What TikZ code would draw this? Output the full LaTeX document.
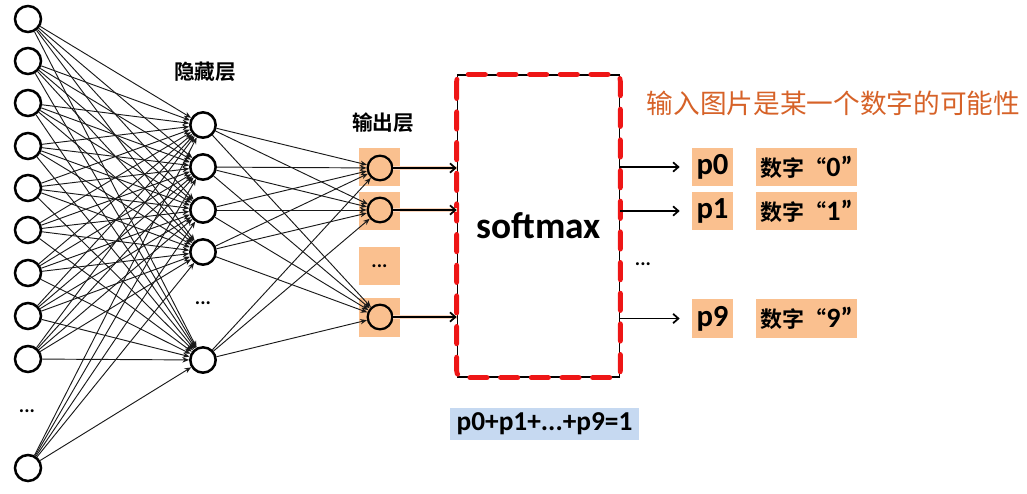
\documentclass[tikz,border=0pt]{standalone}
\usepackage{fontspec}
\setmainfont{Carlito}
\newfontfamily\cjk{Noto Sans CJK SC}[BoldFont={Noto Sans CJK SC Bold}]
\usetikzlibrary{arrows.meta}
\definecolor{boxor}{RGB}{250,192,143}
\definecolor{glowor}{RGB}{252,215,190}
\definecolor{titleor}{RGB}{214,98,40}
\definecolor{sumblue}{RGB}{198,217,241}
\definecolor{redd}{RGB}{238,22,22}
\newcommand{\digitlabel}[1]{{\cjk\bfseries 数字“}{\bfseries\fontsize{21}{22}\selectfont #1”}}
\begin{document}
\begin{tikzpicture}[x=0.75pt,y=-0.75pt,
  neuron/.style={circle,draw=black,line width=1.9pt,minimum size=19.5pt,inner sep=0pt},
  edge/.style={draw=black!90,line width=0.7pt,-{Stealth[length=5pt,width=4pt]}},
  obox/.style={fill=boxor,minimum width=30.75pt,minimum height=29pt,inner sep=0pt},
  nbox/.style={fill=boxor,minimum width=75.75pt,minimum height=29pt,inner sep=0pt},
  oarrow/.style={draw=black,line width=1.3pt,-{Straight Barb[length=4pt,width=7pt]},
     preaction={draw=glowor,line width=3.5pt,-}},
  rarrow/.style={draw=black,line width=1.3pt,-{Straight Barb[length=4pt,width=7pt]}},
  cjklabel/.style={font=\cjk\bfseries\fontsize{15.5}{17}\selectfont},
  dots/.style={font=\bfseries\fontsize{15}{16}\selectfont}
]
\useasboundingbox (0,0) rectangle (1027,493);

% input layer
\foreach \i/\y in {1/19,2/61,3/103,4/146,5/188,6/230,7/273,8/316,9/359,10/468}
  \node[neuron] (in\i) at (28,\y) {};
\node[dots] (indots) at (27,411) {...};

% hidden layer
\foreach \j/\y in {1/125,2/167,3/210,4/252,5/360}
  \node[neuron,minimum size=19pt] (h\j) at (203,\y) {};
\node[dots] (hdots) at (203,303) {...};
\node[cjklabel] (hlabel) at (205,72) {隐藏层};

% output layer boxes
\node[obox] (ob1) at (379.5,167) {};
\node[obox] (ob2) at (379.5,211) {};
\node[obox,font=\bfseries\fontsize{15}{16}\selectfont] (obd) at (379.5,266) {...};
\node[obox] (ob3) at (379.5,317.5) {};
\foreach \k/\y in {1/168,2/210,3/317}
  \node[neuron,minimum size=18.5pt,line width=1.7pt] (o\k) at (380,\y) {};
\node[cjklabel] (olabel) at (383,123) {输出层};

% edges
\foreach \i in {1,...,10}
  \foreach \j in {1,...,5}
    \draw[edge] (in\i) -- (h\j);
\foreach \j in {1,...,5}
  \foreach \k in {1,2,3}
    \draw[edge] (h\j) -- (o\k);

% softmax
\node[draw=black,line width=0.8pt,minimum width=122pt,minimum height=226.5pt,inner sep=0pt,
      font=\bfseries\fontsize{28}{30}\selectfont] (sm) at (538.5,226) {softmax};
\draw[redd,line width=3.6pt,dash pattern=on 13pt off 10pt,line cap=round,rounded corners=5pt]
  (sm.north west) rectangle (sm.south east);

\foreach \k in {1,2,3}
  \draw[oarrow] (o\k) -- (o\k -| sm.west);

% outputs p
\node[obox,font=\bfseries\fontsize{23}{24}\selectfont] (p0) at (712.5,167) {p0};
\node[obox,font=\bfseries\fontsize{23}{24}\selectfont] (p1) at (712.5,211) {p1};
\node[obox,font=\bfseries\fontsize{23}{24}\selectfont] (p9) at (712.5,318.5) {p9};
\node[nbox,font=\fontsize{16.5}{18}\selectfont] (d0) at (806.5,167) {\digitlabel{0}};
\node[nbox,font=\fontsize{16.5}{18}\selectfont] (d1) at (806.5,211) {\digitlabel{1}};
\node[nbox,font=\fontsize{16.5}{18}\selectfont] (d9) at (806.5,318.5) {\digitlabel{9}};
\foreach \p in {p0,p1,p9}
  \draw[rarrow,shorten >=9pt] (sm.east |- \p) -- (\p.west);
\node[dots] (rdots) at (643,264) {...};

\node[font=\cjk\fontsize{20}{22}\selectfont,text=titleor] (title) at (833.5,103) {输入图片是某一个数字的可能性};

\node[fill=sumblue,minimum width=142pt,minimum height=24pt,inner sep=0pt,
      font=\bfseries\fontsize{20.5}{22}\selectfont] (sum) at (544.5,424) {p0+p1+...+p9=1};
\end{tikzpicture}
\end{document}
